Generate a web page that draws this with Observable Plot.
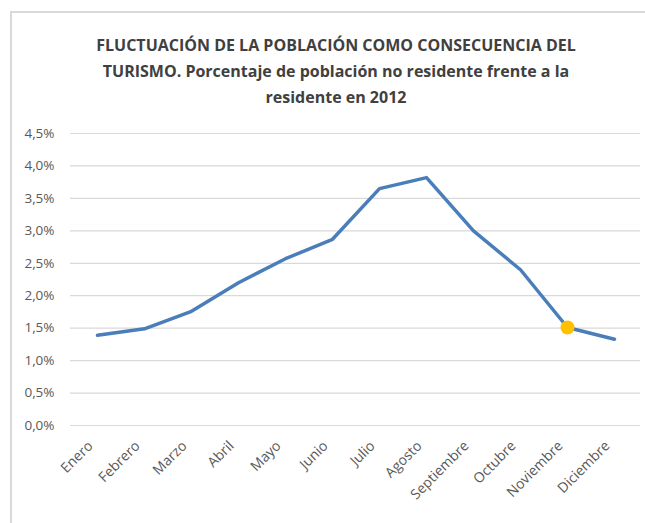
<!DOCTYPE html>
<html>
<head>
<meta charset="utf-8">
<script src="https://cdn.jsdelivr.net/npm/d3@7"></script>
<script src="https://cdn.jsdelivr.net/npm/@observablehq/plot@0.6"></script>
<style>
  html, body { margin: 0; padding: 0; background: #fff; }
  #wrap { position: relative; width: 645px; height: 523px; overflow: hidden; background: #fff; }
  #frame { position: absolute; left: 10px; top: 11px; width: 700px; height: 600px;
           border-top: 2px solid #d9d9d9; border-left: 2px solid #d9d9d9; }
  #title { position: absolute; top: 32px; left: 40px; width: 592px; text-align: center;
           font-family: "Open Sans", sans-serif; font-weight: bold; font-size: 16px;
           line-height: 26px; color: #404040; }
  #chart { position: absolute; top: 110px; left: 0; }
</style>
</head>
<body>
<div id="wrap">
  <div id="frame"></div>
  <div id="title">FLUCTUACIÓN DE LA POBLACIÓN COMO CONSECUENCIA DEL<br>TURISMO. Porcentaje de población no residente frente a la<br>residente en 2012</div>
  <div id="chart"></div>
</div>
<script>
const months = ["Enero", "Febrero", "Marzo", "Abril", "Mayo", "Junio", "Julio", "Agosto", "Septiembre", "Octubre", "Noviembre", "Diciembre"];
const values = [1.39, 1.49, 1.76, 2.20, 2.57, 2.87, 3.65, 3.82, 3.00, 2.40, 1.51, 1.33];
const highlightMonth = ["Noviembre"];
const yTicks = [0, 0.5, 1.0, 1.5, 2.0, 2.5, 3.0, 3.5, 4.0, 4.5];

const data = months.map((m, i) => ({month: m, value: values[i]}));
const highlight = data.filter(d => highlightMonth.includes(d.month));
const fmt = d => d.toFixed(1).replace(".", ",") + "%";

const chart = Plot.plot({
  width: 645,
  height: 413,
  marginTop: 23,
  marginBottom: 98,
  marginLeft: 70,
  marginRight: 5,
  style: {fontFamily: "'Open Sans', sans-serif", fontSize: "13px", color: "#595959", background: "transparent"},
  x: {type: "point", domain: months, padding: 0.5, label: null},
  y: {domain: [0, 4.5], label: null},
  marks: [
    Plot.gridY(yTicks, {stroke: "#d9d9d9", strokeOpacity: 1, strokeWidth: 1.2}),
    Plot.axisY(yTicks, {tickSize: 0, tickPadding: 16, tickFormat: fmt, fontSize: 13.5, fill: "#595959", label: null}),
    Plot.axisX({tickSize: 0, tickPadding: 18, dx: -7, tickRotate: -45, fontSize: 14, fill: "#595959", label: null}),
    Plot.line(data, {x: "month", y: "value", stroke: "#4A7EBB", strokeWidth: 3.5, strokeLinejoin: "round", strokeLinecap: "round"}),
    Plot.dot(highlight, {x: "month", y: "value", r: 7, fill: "#FFC000", stroke: "none"})
  ]
});
document.getElementById("chart").appendChild(chart);
</script>
</body>
</html>
